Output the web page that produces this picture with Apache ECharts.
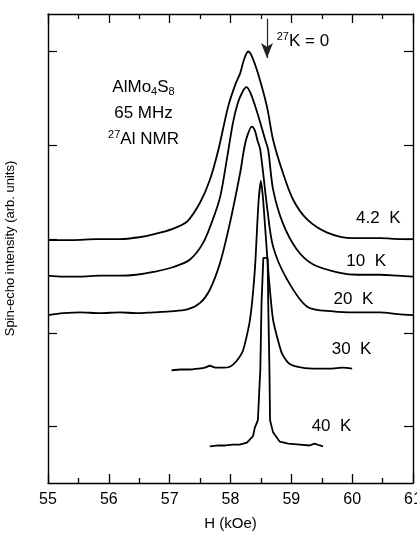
<!DOCTYPE html>
<html>
<head>
<meta charset="utf-8">
<script src="https://cdn.jsdelivr.net/npm/echarts@6/dist/echarts.min.js"></script>
<style>
  html, body { margin: 0; padding: 0; background: #fff; }
  #chart { width: 417px; height: 534px; }
</style>
</head>
<body>
<div id="chart"></div>
<script>
// field H (kOe), intensity (arb. units, offset per temperature)
const spec42 = [
  [55.00, 2.99], [55.40, 2.99], [55.80, 3.00], [56.18, 3.00], [56.50, 3.02], [56.73, 3.05],
  [57.05, 3.11], [57.29, 3.19], [57.50, 3.39], [57.66, 3.63], [57.80, 3.95], [57.96, 4.41],
  [58.08, 4.65], [58.16, 4.77], [58.22, 4.91], [58.29, 5.00], [58.35, 4.95], [58.45, 4.77],
  [58.60, 4.41], [58.70, 4.06], [58.86, 3.71], [59.03, 3.42], [59.26, 3.21],
  [59.59, 3.07], [60.01, 3.01], [60.46, 3.01], [60.80, 3.00], [61.00, 3.00]
];
const spec10 = [
  [55.00, 2.61], [55.25, 2.60], [55.53, 2.60], [55.85, 2.61], [56.18, 2.61], [56.45, 2.62],
  [56.73, 2.65], [57.05, 2.70], [57.33, 2.78], [57.55, 2.96], [57.71, 3.21], [57.83, 3.45],
  [57.94, 3.85], [58.04, 4.24], [58.12, 4.45], [58.19, 4.56], [58.26, 4.62], [58.32, 4.57],
  [58.40, 4.43], [58.49, 4.24], [58.57, 4.06], [58.62, 3.95], [58.70, 3.53], [58.86, 3.17],
  [59.09, 2.89], [59.36, 2.73], [59.80, 2.64], [60.10, 2.62], [60.46, 2.62], [60.75, 2.61],
  [61.00, 2.60]
];
const spec20 = [
  [55.00, 2.19], [55.25, 2.21], [55.53, 2.22], [55.85, 2.21], [56.18, 2.22], [56.45, 2.21],
  [56.73, 2.22], [57.00, 2.23], [57.29, 2.25], [57.50, 2.32], [57.66, 2.46], [57.83, 2.75],
  [57.99, 3.17], [58.16, 3.71], [58.22, 3.95], [58.27, 4.09], [58.35, 4.20], [58.40, 4.16],
  [58.44, 4.06], [58.49, 3.95], [58.60, 3.35], [58.70, 2.92], [58.93, 2.57], [59.26, 2.28],
  [59.69, 2.23], [60.05, 2.22], [60.46, 2.22], [60.75, 2.20], [61.00, 2.19]
];
const spec30 = [
  [57.03, 1.60], [57.18, 1.61], [57.33, 1.61], [57.48, 1.62], [57.58, 1.63], [57.66, 1.65],
  [57.75, 1.63], [57.88, 1.63], [57.99, 1.64], [58.10, 1.70], [58.21, 1.82], [58.32, 2.14],
  [58.40, 2.67], [58.46, 3.39], [58.50, 3.62], [58.54, 3.39], [58.62, 2.67], [58.70, 2.14],
  [58.84, 1.79], [58.95, 1.68], [59.09, 1.64], [59.35, 1.62], [59.64, 1.62], [59.85, 1.63],
  [60.00, 1.62]
];
const spec40 = [
  [57.66, 0.79], [57.80, 0.80], [57.92, 0.80], [58.04, 0.81], [58.15, 0.81], [58.27, 0.83],
  [58.37, 0.90], [58.40, 0.99], [58.45, 1.07], [58.49, 1.61], [58.51, 2.32], [58.54, 2.80],
  [58.61, 2.80], [58.62, 2.32], [58.64, 1.61], [58.65, 1.07], [58.70, 0.94], [58.81, 0.84],
  [58.95, 0.82], [59.14, 0.81], [59.30, 0.80], [59.38, 0.82], [59.47, 0.80], [59.52, 0.79]
];

// label text and where it sits, in axis units
const tempLabels = ['4.2  K', '10  K', '20  K', '30  K', '40  K'];
const tempLabelPos = [[60.43, 3.22], [60.23, 2.76], [60.02, 2.36], [59.99, 1.82], [59.66, 1.00]];
const arrowH = 58.60;
const arrowTop = 5.35;
const arrowTip = 4.93;
const xTicks = [55, 56, 57, 58, 59, 60, 61];
const xMinorTicks = [55.5, 56.5, 57.5, 58.5, 59.5, 60.5];
const yTicks = [1, 2, 3, 4, 5];
const yMin = 0.4, yMax = 5.4;

const FONT = '"Liberation Sans", Arial, sans-serif';
const chart = echarts.init(document.getElementById('chart'));

const axisLine = { show: true, lineStyle: { color: '#000', width: 1.4 } };
const tickStyle = { color: '#000', width: 1.2 };

function spectrum(data, smooth) {
  return {
    type: 'line',
    data: data,
    showSymbol: false,
    smooth: smooth,
    lineStyle: { color: '#000', width: 1.8 },
    silent: true
  };
}

let series = [
  spectrum(spec42, 0.3),
  spectrum(spec10, 0.3),
  spectrum(spec20, 0.3),
  spectrum(spec30, 0.2),
  spectrum(spec40, false)
];
// arrow marking 27K = 0
series[0].markLine = {
  silent: true,
  symbol: ['none', 'arrow'],
  symbolSize: [9, 15],
  label: { show: false },
  lineStyle: { color: '#222', width: 1.2, type: 'solid' },
  data: [[
    { coord: [arrowH, arrowTop] },
    { coord: [arrowH, arrowTip] }
  ]]
};

// inward ticks on the top and bottom frame (9 px major, 5 px minor)
const pxPerUnit = (534 - 14 - 51) / (yMax - yMin);
function tickPairs(values, len) {
  let d = len / pxPerUnit;
  let out = [];
  values.forEach(v => {
    out.push([{ coord: [v, yMin] }, { coord: [v, yMin + d] }]);
    out.push([{ coord: [v, yMax] }, { coord: [v, yMax - d] }]);
  });
  return out;
}
series[4].markLine = {
  silent: true,
  symbol: ['none', 'none'],
  label: { show: false },
  lineStyle: { color: '#000', width: 1.3, type: 'solid' },
  data: tickPairs(xTicks, 9).concat(tickPairs(xMinorTicks, 5))
};

function xAxisAt(pos, withLabels) {
  return {
    type: 'value',
    min: 55, max: 61, interval: 1,
    position: pos,
    axisLine: axisLine,
    axisTick: { show: false },
    splitLine: { show: false },
    axisLabel: withLabels
      ? { color: '#000', fontSize: 16, fontFamily: FONT, margin: 9, customValues: xTicks }
      : { show: false }
  };
}

function yAxisAt(pos) {
  return {
    type: 'value',
    min: yMin, max: yMax,
    position: pos,
    axisLine: axisLine,
    axisTick: { show: true, inside: true, length: 9, customValues: yTicks, lineStyle: tickStyle },
    splitLine: { show: false },
    axisLabel: { show: false }
  };
}

let bottomAxis = xAxisAt('bottom', true);
bottomAxis.name = 'H (kOe)';
bottomAxis.nameLocation = 'middle';
bottomAxis.nameGap = 33;
bottomAxis.nameTextStyle = { color: '#000', fontSize: 15, fontFamily: FONT };

let leftAxis = yAxisAt('left');
leftAxis.name = 'Spin-echo intensity (arb. units)';
leftAxis.nameLocation = 'middle';
leftAxis.nameGap = 31;
leftAxis.nameTextStyle = { color: '#000', fontSize: 13, fontFamily: FONT };

let option = {
  animation: false,
  textStyle: { fontFamily: FONT },
  grid: { left: 48, right: 4, top: 14, bottom: 51, outerBoundsMode: 'none' },
  xAxis: [bottomAxis, xAxisAt('top', false)],
  yAxis: [leftAxis, yAxisAt('right')],
  series: series
};
chart.setOption(option);

let graphics = [];

// texts placed in data coordinates
tempLabels.forEach((t, i) => {
  let p = chart.convertToPixel({ gridIndex: 0 }, tempLabelPos[i]);
  graphics.push({
    type: 'text', x: p[0], y: p[1], silent: true,
    style: { text: t, fill: '#000', font: '17px ' + FONT, align: 'center', verticalAlign: 'middle' }
  });
});

let kPos = chart.convertToPixel({ gridIndex: 0 }, [58.76, 5.11]);
graphics.push({
  type: 'text', x: kPos[0], y: kPos[1], silent: true,
  style: {
    text: '{sup|27}K = 0',
    fill: '#000', font: '17px ' + FONT, align: 'left', verticalAlign: 'middle',
    rich: {
      sup: { fontSize: 11, fontFamily: FONT, padding: [0, 0, 9, 0] }
    }
  }
});

let sPos = chart.convertToPixel({ gridIndex: 0 }, [56.57, 4.76]);
graphics.push({
  type: 'text', x: sPos[0], y: sPos[1], silent: true,
  style: {
    text: 'AlMo{sub|4}S{sub|8}\n65 MHz\n{sup|27}Al NMR',
    fill: '#000', font: '17px ' + FONT, align: 'center', verticalAlign: 'top',
    lineHeight: 26,
    rich: {
      sub: { fontSize: 11, fontFamily: FONT, padding: [10, 0, 0, 0] },
      sup: { fontSize: 11, fontFamily: FONT, padding: [0, 0, 9, 0] }
    }
  }
});
chart.setOption({ graphic: graphics });
</script>
</body>
</html>
